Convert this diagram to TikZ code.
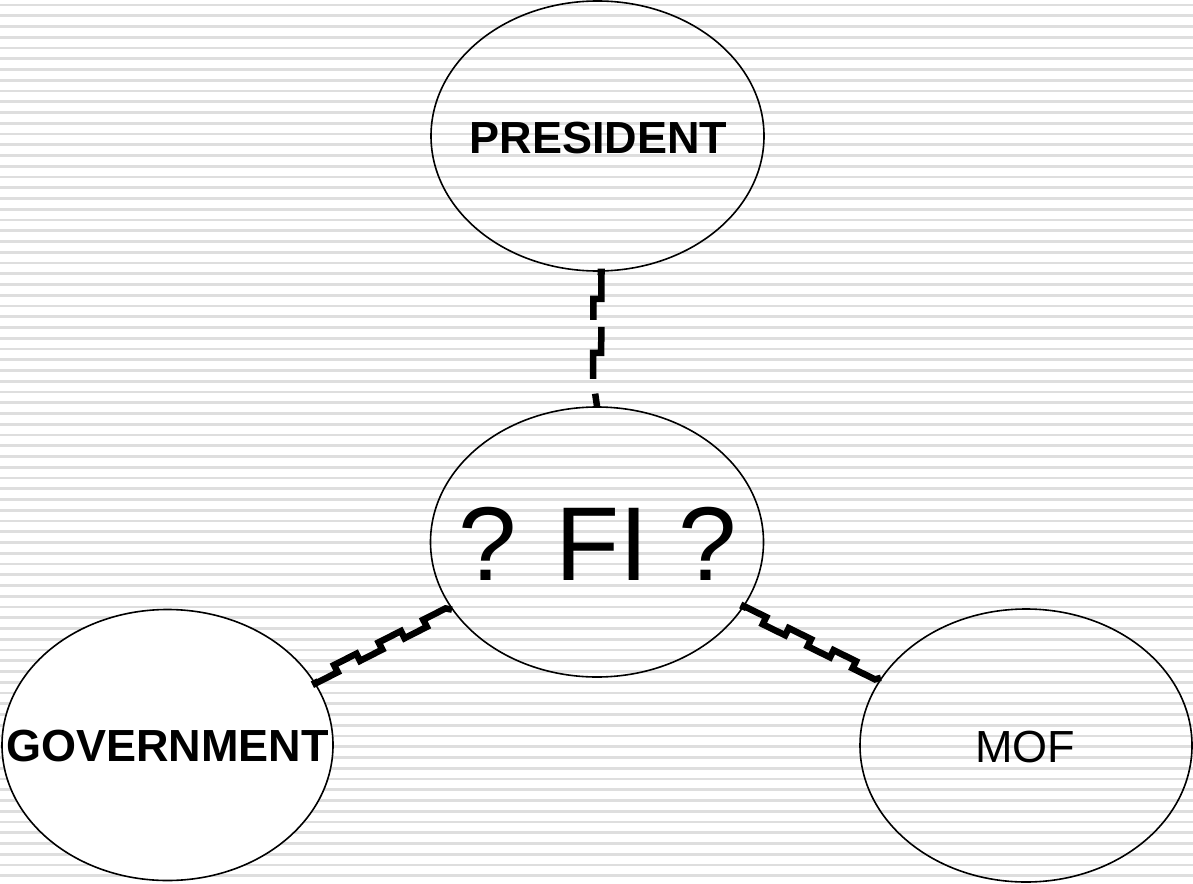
\documentclass[tikz,border=0pt]{standalone}
\usepackage{fontspec}
\setmainfont{Liberation Sans}
\usetikzlibrary{shapes.geometric,decorations}
\pgfdeclaredecoration{stairs}{up}{
 \state{up}[width=\pgfdecorationsegmentlength,next state=down]{
  \pgfpathlineto{\pgfpoint{0pt}{\pgfdecorationsegmentamplitude}}
  \pgfpathlineto{\pgfpoint{\pgfdecorationsegmentlength}{\pgfdecorationsegmentamplitude}}
 }
 \state{down}[width=\pgfdecorationsegmentlength,next state=up]{
  \pgfpathlineto{\pgfpoint{0pt}{-\pgfdecorationsegmentamplitude}}
  \pgfpathlineto{\pgfpoint{\pgfdecorationsegmentlength}{-\pgfdecorationsegmentamplitude}}
 }
 \state{final}{\pgfpathlineto{\pgfpointdecoratedpathlast}}
}
\definecolor{stripegray}{RGB}{222,222,222}
\tikzset{
  stripe/.style={draw=stripegray, line width=2.6pt},
  bubble/.style={ellipse, draw=black, line width=1.6pt, inner sep=0pt,
                 minimum width=333pt, minimum height=270pt},
  boldlab/.style={font=\fontsize{45pt}{54pt}\selectfont\bfseries},
  plainlab/.style={font=\fontsize{45pt}{54pt}\selectfont},
  biglab/.style={font=\fontsize{105pt}{120pt}\selectfont},
  conn/.style={draw=black, line width=6.5pt, line cap=butt, line join=miter, decorate},
}
\begin{document}
\begin{tikzpicture}[x=1pt,y=-1pt]
\fill[white] (0,0) rectangle (1193,883);
\useasboundingbox (0,0) rectangle (1193,883);
\foreach \k in {0,...,81}{
  \pgfmathsetmacro{\yy}{5+10.75*\k}
  \draw[stripe] (0,\yy) -- (1193,\yy);
}
\node[bubble] (pres) at (597.5,136) {\makebox[0pt]{}};
\node[bubble] (fi) at (597,542) {\makebox[0pt]{}};
\node[bubble, fill=white, minimum width=331pt, minimum height=271pt] (gov) at (167.5,745) {\makebox[0pt]{}};
\node[bubble, minimum width=332pt, minimum height=273pt] (mof) at (1026,745.5) {\makebox[0pt]{}};
\node[boldlab, inner sep=0pt] (preslab) at (598.5,138.5) {PRESIDENT};
\node[biglab, inner sep=0pt] (filab) at (597.5,544) {? FI ?};
\node[boldlab, inner sep=0pt] (govlab) at (167.5,746) {GOVERNMENT};
\node[plainlab, inner sep=0pt] (moflab) at (1025,747) {MOF};
\draw[conn, decoration={stairs, segment length=27pt, amplitude=4pt},
      dash pattern=on 60pt off 15pt] (pres.south) -- (fi.north);
\draw[conn, decoration={stairs, segment length=25pt, amplitude=-4pt}] (gov.24) -- (fi.205);
\draw[conn, decoration={stairs, segment length=25pt, amplitude=4pt}] (fi.335) -- (mof.155);
\end{tikzpicture}
\end{document}
